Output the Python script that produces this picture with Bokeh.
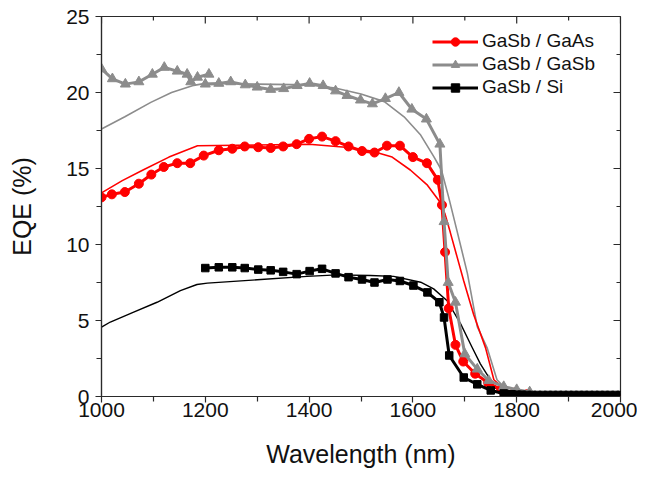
import math
from bokeh.plotting import figure
from bokeh.models import Range1d, Legend, LegendItem, FixedTicker
from bokeh.embed import file_html
from bokeh.resources import INLINE

# ---------------- data ----------------
# measured EQE, GaSb / GaAs (red, circles)
gaas_wl = [1000, 1020, 1045, 1072, 1096, 1120, 1146, 1171, 1197, 1226, 1252,
           1276, 1302, 1326, 1350, 1376, 1400, 1425, 1451, 1476, 1502, 1526,
           1550, 1575, 1600, 1627, 1648, 1656, 1662, 1669, 1682, 1697, 1720,
           1745, 1770, 1795, 1820]
gaas_eqe = [13.1, 13.3, 13.45, 14.0, 14.6, 15.1, 15.35, 15.35, 15.85, 16.2, 16.3,
            16.45, 16.4, 16.35, 16.45, 16.6, 16.95, 17.1, 16.8, 16.45, 16.15, 16.05,
            16.5, 16.5, 15.75, 15.35, 14.25, 12.6, 9.5, 5.8, 3.4, 2.3, 1.5,
            0.9, 0.45, 0.25, 0.15]

# measured EQE, GaSb / GaSb (grey, triangles) - two detector ranges
gasb1_wl = [1000, 1021, 1046, 1072, 1098, 1121, 1146, 1165, 1172, 1185, 1207]
gasb1_eqe = [21.55, 20.9, 20.55, 20.7, 21.2, 21.65, 21.4, 21.2, 20.7, 21.0, 21.2]
gasb2_wl = [1200, 1226, 1249, 1277, 1300, 1326, 1351, 1377, 1401, 1427, 1451,
            1473, 1499, 1522, 1547, 1573, 1598, 1626, 1652, 1660, 1668, 1682,
            1700, 1724, 1746, 1775, 1800, 1825]
gasb2_eqe = [20.55, 20.6, 20.7, 20.5, 20.35, 20.2, 20.25, 20.45, 20.6, 20.45, 20.1,
             19.8, 19.5, 19.25, 19.6, 20.0, 18.9, 18.25, 16.6, 11.5, 7.5, 6.2,
             2.8, 1.8, 1.05, 0.65, 0.45, 0.3]

# measured EQE, GaSb / Si (black, squares)
si_wl = [1200, 1226, 1252, 1276, 1302, 1326, 1350, 1376, 1401, 1425, 1451,
         1476, 1502, 1526, 1551, 1575, 1601, 1628, 1651, 1660, 1670, 1698,
         1724, 1750, 1775, 1790, 1800, 1810, 1820, 1830, 1840, 1850, 1860,
         1870, 1880, 1890, 1900, 1910, 1920, 1930, 1940, 1950, 1960, 1970,
         1980, 1990, 2000]
si_eqe = [8.45, 8.5, 8.5, 8.45, 8.35, 8.3, 8.2, 8.05, 8.25, 8.4, 8.1,
          7.85, 7.7, 7.5, 7.7, 7.6, 7.3, 6.85, 6.2, 5.2, 2.7, 1.25,
          0.8, 0.4, 0.2, 0.15, 0.12, 0.12, 0.1, 0.1, 0.1, 0.1, 0.1,
          0.1, 0.1, 0.1, 0.1, 0.1, 0.1, 0.1, 0.1, 0.1, 0.1, 0.1,
          0.1, 0.1, 0.1]

# simulated EQE (thin lines)
sim_gaas_wl = [1000, 1040, 1080, 1130, 1185, 1300, 1400, 1470, 1520, 1560, 1595,
               1628, 1650, 1662, 1672, 1685, 1698, 1717, 1740, 1756, 1782, 1850, 2000]
sim_gaas_eqe = [13.4, 14.2, 14.9, 15.75, 16.5, 16.55, 16.6, 16.4, 16.15, 15.75, 14.9,
                13.9, 12.9, 12.0, 10.8, 9.2, 7.6, 5.4, 3.2, 1.1, 0.3, 0.1, 0.05]
sim_gasb_wl = [1000, 1045, 1095, 1135, 1175, 1200, 1300, 1400, 1450, 1500, 1545,
               1583, 1615, 1640, 1655, 1669, 1685, 1705, 1724, 1743, 1762, 1782,
               1850, 2000]
sim_gasb_eqe = [17.6, 18.4, 19.35, 20.0, 20.45, 20.6, 20.55, 20.5, 20.3, 19.9, 19.4,
                18.4, 17.2, 15.8, 14.9, 13.1, 10.9, 8.1, 4.6, 3.2, 1.1, 0.4,
                0.1, 0.05]
sim_si_wl = [1000, 1017, 1062, 1107, 1152, 1184, 1204, 1300, 1396, 1454, 1518,
             1563, 1615, 1640, 1666, 1692, 1714, 1730, 1746, 1756, 1775, 1850, 2000]
sim_si_eqe = [4.56, 4.9, 5.55, 6.2, 6.97, 7.37, 7.46, 7.68, 7.9, 8.0, 7.96,
              7.9, 7.52, 7.08, 6.3, 4.78, 3.24, 2.15, 1.27, 0.6, 0.28, 0.1, 0.05]

# ticks
x_major = [1000, 1200, 1400, 1600, 1800, 2000]
x_minor = [1100, 1300, 1500, 1700, 1900]
y_major = [0, 5, 10, 15, 20, 25]
y_minor = [2.5, 7.5, 12.5, 17.5, 22.5]
x_min, x_max = 1000, 2000
y_min, y_max = 0, 25

RED = "#ff0000"
GREY = "#8c8c8c"
BLACK = "#000000"
FONT = "Liberation Sans"
AXC = "#2a2a2a"

# ---------------- figure ----------------
p = figure(width=637, height=476, x_range=Range1d(x_min, x_max),
           y_range=Range1d(y_min, y_max), output_backend="svg",
           toolbar_location=None,
           min_border_left=101, min_border_right=17, min_border_top=16,
           min_border_bottom=80)
p.grid.visible = False
p.outline_line_color = AXC
p.outline_line_width = 1.2
p.background_fill_color = "white"
p.border_fill_color = "white"

for ax in p.xaxis + p.yaxis:
    ax.axis_line_color = AXC
    ax.axis_line_width = 1.2
    ax.major_tick_line_color = AXC
    ax.minor_tick_line_color = AXC
    ax.major_tick_line_width = 1.2
    ax.minor_tick_line_width = 1.2
    ax.major_tick_in = 0
    ax.major_tick_out = 6
    ax.minor_tick_in = 0
    ax.minor_tick_out = 5
    ax.major_label_text_font = FONT
    ax.major_label_text_font_size = "21px"
    ax.major_label_text_color = "#111111"
    ax.axis_label_text_font = FONT
    ax.axis_label_text_font_size = "25px"
    ax.axis_label_text_font_style = "normal"
    ax.axis_label_text_color = "#111111"

p.xaxis.ticker = FixedTicker(ticks=x_major, minor_ticks=x_minor)
p.yaxis.ticker = FixedTicker(ticks=y_major, minor_ticks=y_minor)
p.xaxis.axis_label = "Wavelength (nm)"
p.yaxis.axis_label = "EQE (%)"
p.xaxis.major_label_standoff = 0
p.xaxis.axis_label_standoff = 20
p.yaxis.major_label_standoff = 6
p.yaxis.axis_label_standoff = 27

# mirror ticks (inward) on the top and right edges of the frame
p.ray(x=x_major, y=[y_max] * len(x_major), length=7, angle=-math.pi / 2,
      length_units="screen", line_color=AXC, line_width=1.2)
p.ray(x=x_minor, y=[y_max] * len(x_minor), length=4, angle=-math.pi / 2,
      length_units="screen", line_color=AXC, line_width=1.2)
p.ray(x=[x_max] * len(y_major), y=y_major, length=7, angle=math.pi,
      length_units="screen", line_color=AXC, line_width=1.2)
p.ray(x=[x_max] * len(y_minor), y=y_minor, length=4, angle=math.pi,
      length_units="screen", line_color=AXC, line_width=1.2)

# ---------------- simulated (thin) ----------------
p.line(sim_gasb_wl, sim_gasb_eqe, line_color=GREY, line_width=1.6)
p.line(sim_gaas_wl, sim_gaas_eqe, line_color=RED, line_width=1.6)
p.line(sim_si_wl, sim_si_eqe, line_color=BLACK, line_width=1.4)

# ---------------- measured (thick + markers) ----------------
r_l = p.line(gaas_wl, gaas_eqe, line_color=RED, line_width=3)
r_m = p.scatter(gaas_wl, gaas_eqe, marker="circle", size=9,
                fill_color=RED, line_color=RED)

g_l1 = p.line(gasb1_wl, gasb1_eqe, line_color=GREY, line_width=3)
g_m1 = p.scatter(gasb1_wl, gasb1_eqe, marker="triangle", size=10,
                 fill_color=GREY, line_color=GREY)
g_l2 = p.line(gasb2_wl, gasb2_eqe, line_color=GREY, line_width=3)
g_m2 = p.scatter(gasb2_wl, gasb2_eqe, marker="triangle", size=10,
                 fill_color=GREY, line_color=GREY)

k_l = p.line(si_wl, si_eqe, line_color=BLACK, line_width=3)
k_m = p.scatter(si_wl, si_eqe, marker="square", size=7.5,
                fill_color=BLACK, line_color=BLACK)

legend = Legend(items=[
    LegendItem(label="GaSb / GaAs", renderers=[r_l, r_m]),
    LegendItem(label="GaSb / GaSb", renderers=[g_l2, g_m2]),
    LegendItem(label="GaSb / Si", renderers=[k_l, k_m]),
], location=(331, 298))
legend.background_fill_alpha = 0
legend.border_line_alpha = 0
legend.padding = 0
legend.margin = 0
legend.spacing = 1
legend.glyph_width = 46
legend.glyph_height = 21
legend.label_height = 21
legend.label_standoff = 4
legend.label_text_font = FONT
legend.label_text_font_size = "19px"
legend.label_text_color = "#111111"
p.add_layout(legend, "center")

open("out.html", "w").write(file_html(p, INLINE))
